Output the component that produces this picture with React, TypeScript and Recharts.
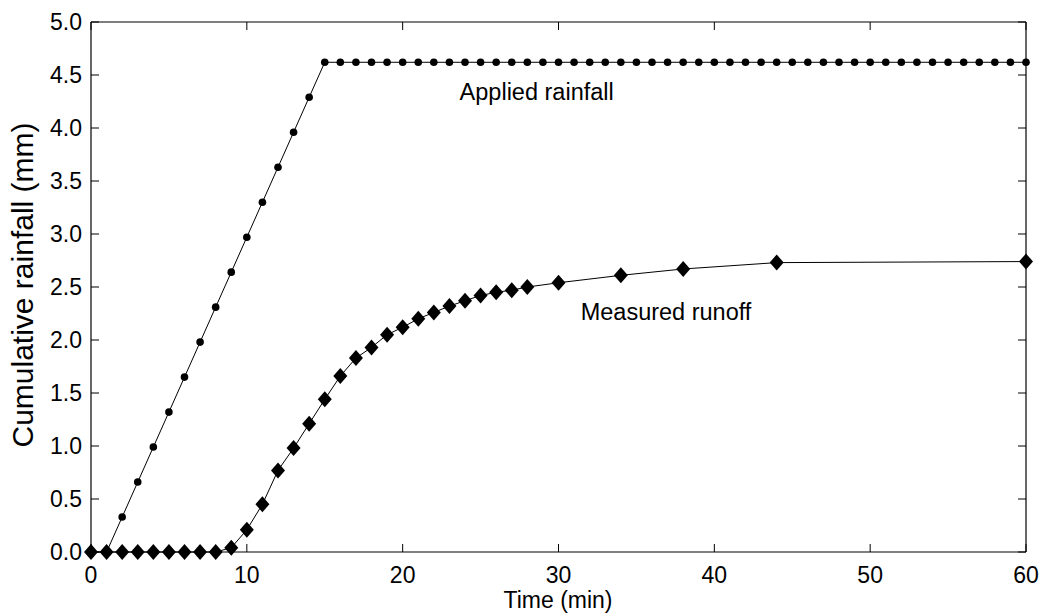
import React from 'react';
import { LineChart, Line, XAxis, YAxis, ReferenceDot, Label } from 'recharts';

const appliedTime = [0, 1, 2, 3, 4, 5, 6, 7, 8, 9, 10, 11, 12, 13, 14, 15, 16, 17, 18, 19, 20, 21, 22, 23, 24, 25, 26, 27, 28, 29, 30, 31, 32, 33, 34, 35, 36, 37, 38, 39, 40, 41, 42, 43, 44, 45, 46, 47, 48, 49, 50, 51, 52, 53, 54, 55, 56, 57, 58, 59, 60];
const appliedRain = [0, 0, 0.33, 0.66, 0.99, 1.32, 1.65, 1.98, 2.31, 2.64, 2.97, 3.3, 3.63, 3.96, 4.29, 4.62,
  4.62, 4.62, 4.62, 4.62, 4.62, 4.62, 4.62, 4.62, 4.62, 4.62, 4.62, 4.62, 4.62, 4.62, 4.62,
  4.62, 4.62, 4.62, 4.62, 4.62, 4.62, 4.62, 4.62, 4.62, 4.62, 4.62, 4.62, 4.62, 4.62, 4.62,
  4.62, 4.62, 4.62, 4.62, 4.62, 4.62, 4.62, 4.62, 4.62, 4.62, 4.62, 4.62, 4.62, 4.62, 4.62];

const runoffTime = [0, 1, 2, 3, 4, 5, 6, 7, 8, 9, 10, 11, 12, 13, 14, 15, 16, 17, 18, 19, 20, 21, 22, 23, 24, 25, 26, 27, 28, 30, 34, 38, 44, 60];
const runoffValue = [0, 0, 0, 0, 0, 0, 0, 0, 0, 0.04, 0.21, 0.45, 0.77, 0.98, 1.21, 1.44, 1.66, 1.83, 1.93, 2.05, 2.12, 2.2, 2.26, 2.32, 2.37, 2.42, 2.45, 2.47, 2.5, 2.54, 2.61, 2.67, 2.73, 2.74];

const xTicks = [0, 10, 20, 30, 40, 50, 60];
const yTicks = [0, 0.5, 1, 1.5, 2, 2.5, 3, 3.5, 4, 4.5, 5];

const appliedData = appliedTime.map((t, i) => ({ t, v: appliedRain[i] }));
const runoffData = runoffTime.map((t, i) => ({ t, v: runoffValue[i] }));

const FONT = '"Liberation Sans", Arial, sans-serif';
const FS = 23;
const TICK_LEN = 8;
const X_MARGIN = 14;
const Y_MARGIN = 9;

const BottomTick = (props: any) => {
  const { x, y, payload } = props;
  const axisY = y - X_MARGIN;
  return (
    <g>
      <path d={`M${x},${axisY}V${axisY - TICK_LEN}`} stroke="#000" strokeWidth={1} fill="none" />
      <text x={x} y={y} dy="0.72em" textAnchor="middle" fontSize={FS} fill="#000" fontFamily={FONT}>
        {payload.value}
      </text>
    </g>
  );
};

const LeftTick = (props: any) => {
  const { x, y, payload } = props;
  const axisX = x + Y_MARGIN;
  return (
    <g>
      <path d={`M${axisX},${y}H${axisX + TICK_LEN}`} stroke="#000" strokeWidth={1} fill="none" />
      <text x={x} y={y} dy="0.36em" textAnchor="end" fontSize={FS} fill="#000" fontFamily={FONT}>
        {Number(payload.value).toFixed(1)}
      </text>
    </g>
  );
};

const TopTick = (props: any) => {
  const { x, y } = props;
  return <path d={`M${x},${y}V${y + TICK_LEN}`} stroke="#000" strokeWidth={1} fill="none" />;
};

const RightTick = (props: any) => {
  const { x, y } = props;
  return <path d={`M${x},${y}H${x - TICK_LEN}`} stroke="#000" strokeWidth={1} fill="none" />;
};

const Diamond = (props: any) => {
  const { cx, cy, index } = props;
  if (cx == null || cy == null) return <g key={`d${index}`} />;
  return (
    <polygon
      key={`d${index}`}
      points={`${cx},${cy - 8} ${cx + 7},${cy} ${cx},${cy + 8} ${cx - 7},${cy}`}
      fill="#000"
    />
  );
};

export default function App() {
  return (
    <div style={{ position: 'absolute', left: 0, top: 0, background: '#fff' }}>
      <LineChart
        width={1042}
        height={614}
        margin={{ top: 21, right: 15, bottom: 0, left: 0 }}
        style={{ fontFamily: FONT }}
      >
        <XAxis
          xAxisId="b"
          type="number"
          dataKey="t"
          domain={[0, 60]}
          ticks={xTicks}
          height={62}
          tickSize={0}
          tickMargin={X_MARGIN}
          tick={<BottomTick />}
          tickLine={false}
          axisLine={{ stroke: '#000', strokeWidth: 1.2 }}
          interval={0}
        >
          <Label
            content={() => (
              <text x={558} y={608} textAnchor="middle" fontSize={FS} fill="#000" fontFamily={FONT}>
                Time (min)
              </text>
            )}
          />
        </XAxis>
        <XAxis
          xAxisId="top"
          orientation="top"
          type="number"
          dataKey="t"
          domain={[0, 60]}
          ticks={xTicks}
          height={1}
          tickSize={0}
          tickMargin={0}
          tick={<TopTick />}
          tickLine={false}
          axisLine={{ stroke: '#000', strokeWidth: 1.2 }}
          interval={0}
        />
        <YAxis
          yAxisId="l"
          type="number"
          domain={[0, 5]}
          ticks={yTicks}
          width={91}
          tickSize={0}
          tickMargin={Y_MARGIN}
          tick={<LeftTick />}
          tickLine={false}
          axisLine={{ stroke: '#000', strokeWidth: 1.2 }}
          interval={0}
        >
          <Label
            content={() => (
              <text
                x={0}
                y={0}
                transform="translate(33 285) rotate(-90)"
                textAnchor="middle"
                fontSize={30}
                fill="#000"
                fontFamily={FONT}
              >
                Cumulative rainfall (mm)
              </text>
            )}
          />
        </YAxis>
        <YAxis
          yAxisId="r"
          orientation="right"
          type="number"
          domain={[0, 5]}
          ticks={yTicks}
          width={1}
          tickSize={0}
          tickMargin={0}
          tick={<RightTick />}
          tickLine={false}
          axisLine={{ stroke: '#000', strokeWidth: 1.2 }}
          interval={0}
        />
        <Line
          xAxisId="b"
          yAxisId="l"
          data={appliedData}
          dataKey="v"
          type="linear"
          stroke="#000"
          strokeWidth={1}
          dot={{ r: 3.8, fill: '#000', stroke: 'none' }}
          activeDot={false}
          isAnimationActive={false}
        />
        <Line
          xAxisId="b"
          yAxisId="l"
          data={runoffData}
          dataKey="v"
          type="linear"
          stroke="#000"
          strokeWidth={1}
          dot={<Diamond />}
          activeDot={false}
          isAnimationActive={false}
        />
        <Line
          xAxisId="top"
          yAxisId="r"
          data={appliedData}
          dataKey="v"
          stroke="none"
          dot={false}
          activeDot={false}
          isAnimationActive={false}
        />
        <ReferenceDot
          xAxisId="b"
          yAxisId="l"
          x={28.6}
          y={4.34}
          r={1}
          fill="none"
          stroke="none"
          label={{ value: 'Applied rainfall', position: 'center', fontSize: 23.5, fill: '#000', fontFamily: FONT }}
        />
        <ReferenceDot
          xAxisId="b"
          yAxisId="l"
          x={36.9}
          y={2.27}
          r={1}
          fill="none"
          stroke="none"
          label={{ value: 'Measured runoff', position: 'center', fontSize: 23.5, fill: '#000', fontFamily: FONT }}
        />
      </LineChart>
    </div>
  );
}
